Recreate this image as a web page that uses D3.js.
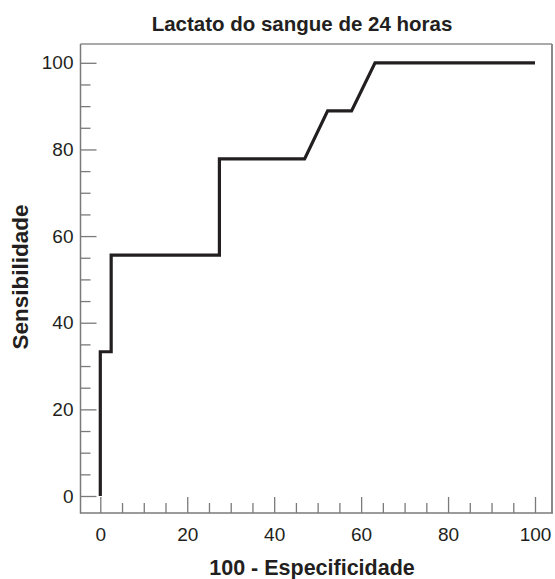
<!DOCTYPE html>
<html>
<head>
<meta charset="utf-8">
<script src="https://cdn.jsdelivr.net/npm/d3@7/dist/d3.min.js"></script>
<style>
  html, body { margin: 0; padding: 0; background: #fff; }
  svg { display: block; }
  text { font-family: "Liberation Sans", Arial, Helvetica, sans-serif; fill: #231f20; }
</style>
</head>
<body>
<svg id="chart" width="555" height="579"></svg>
<script>
// ---- data ----
const fpr = [0, 0, 2.5, 2.5, 27.4, 27.4, 47, 52.3, 57.8, 63.2, 100];      // 100 - Especificidade
const tpr = [0, 33.3, 33.3, 55.6, 55.6, 77.8, 77.8, 88.9, 88.9, 100, 100]; // Sensibilidade
const majorTicks = [0, 20, 40, 60, 80, 100];
const minorTicks = [5, 10, 15, 25, 30, 35, 45, 50, 55, 65, 70, 75, 85, 90, 95];
const titleText = "Lactato do sangue de 24 horas";
const xLabel = "100 - Especificidade";
const yLabel = "Sensibilidade";

// ---- layout ----
const svg = d3.select("#chart");
const fLeft = 80.5, fRight = 552, fTop = 44, fBottom = 513;
const x = d3.scaleLinear().domain([0, 100]).range([100.3, 535]);
const y = d3.scaleLinear().domain([0, 100]).range([496, 62.8]);
const axisColor = "#7a7a7a";

// frame: top and right
svg.append("line").attr("x1", fLeft).attr("x2", fRight).attr("y1", fTop).attr("y2", fTop)
  .attr("stroke", "#555").attr("stroke-width", 1);
svg.append("line").attr("x1", fRight).attr("x2", fRight).attr("y1", fTop).attr("y2", fBottom)
  .attr("stroke", "#8a8a8a").attr("stroke-width", 2);

// x axis
const gx = svg.append("g").attr("transform", `translate(0,${fBottom})`);
gx.call(d3.axisBottom(x).tickValues(majorTicks).tickSize(-16).tickPadding(15).tickSizeOuter(0));
const gxm = svg.append("g").attr("transform", `translate(0,${fBottom})`);
gxm.call(d3.axisBottom(x).tickValues(minorTicks).tickSize(-10).tickFormat("").tickSizeOuter(0));

// y axis
const gy = svg.append("g").attr("transform", `translate(${fLeft},0)`);
gy.call(d3.axisLeft(y).tickValues(majorTicks).tickSize(-16).tickPadding(7).tickSizeOuter(0));
const gym = svg.append("g").attr("transform", `translate(${fLeft},0)`);
gym.call(d3.axisLeft(y).tickValues(minorTicks).tickSize(-10).tickFormat("").tickSizeOuter(0));

[gx, gxm, gy, gym].forEach(g => {
  g.select(".domain").remove();
  g.selectAll(".tick line").attr("stroke", axisColor).attr("stroke-width", 1.3);
  g.selectAll(".tick text").attr("font-size", 19).attr("fill", "#231f20")
    .attr("font-family", '"Liberation Sans", Arial, sans-serif');
});

// axis lines
svg.append("line").attr("x1", fLeft).attr("x2", fLeft).attr("y1", fTop).attr("y2", fBottom + 0.7)
  .attr("stroke", axisColor).attr("stroke-width", 1.5);
svg.append("line").attr("x1", fLeft).attr("x2", fRight + 1).attr("y1", fBottom).attr("y2", fBottom)
  .attr("stroke", axisColor).attr("stroke-width", 1.5);

// curve
const line = d3.line().x((d, i) => x(fpr[i])).y((d, i) => y(tpr[i]));
svg.append("path").datum(fpr).attr("d", line)
  .attr("fill", "none").attr("stroke", "#231f20").attr("stroke-width", 3.2)
  .attr("stroke-linejoin", "miter");

// titles
svg.append("text").attr("x", 302).attr("y", 31).attr("text-anchor", "middle")
  .attr("font-size", 20.5).attr("font-weight", "bold").text(titleText);
svg.append("text").attr("x", 312).attr("y", 574.5).attr("text-anchor", "middle")
  .attr("font-size", 21.5).attr("font-weight", "bold").text(xLabel);
svg.append("text").attr("transform", "translate(28,277) rotate(-90)").attr("text-anchor", "middle")
  .attr("font-size", 22.5).attr("font-weight", "bold").text(yLabel);
</script>
</body>
</html>
